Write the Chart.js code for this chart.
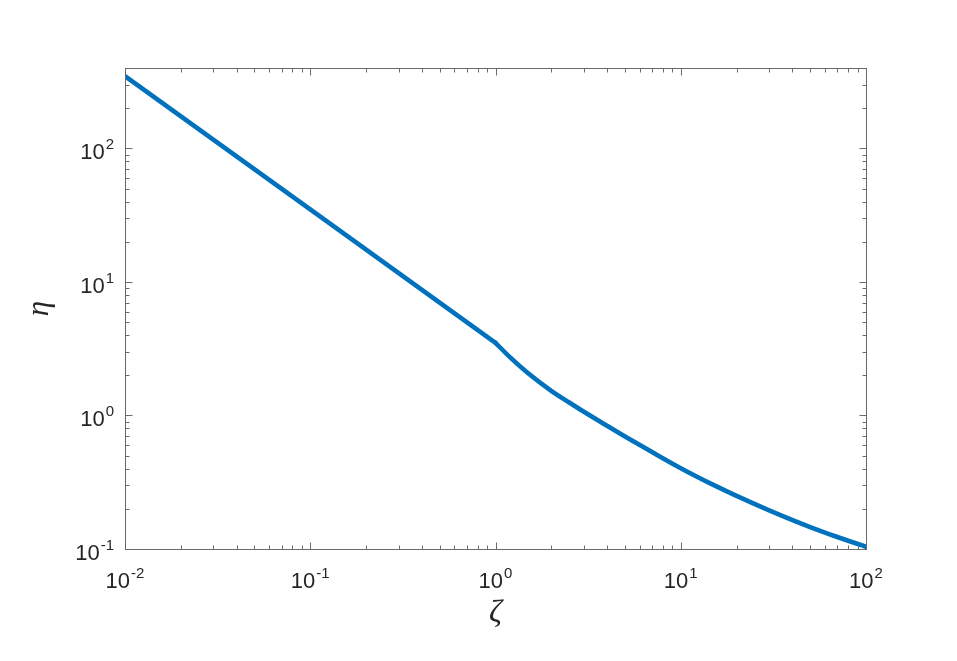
<!DOCTYPE html>
<html>
<head>
<meta charset="utf-8">
<script src="https://cdn.jsdelivr.net/npm/chart.js@4/dist/chart.umd.min.js"></script>
<style>
  html, body { margin: 0; padding: 0; background: #ffffff; }
  canvas { display: block; }
</style>
</head>
<body>
<canvas id="c" width="957" height="661"></canvas>
<script>
// ---- data ----
const zeta = [0.01, 0.1, 1, 1.2, 1.5, 2, 2.5, 3, 4, 5, 7, 10, 15, 20, 30, 50, 70, 100];
const eta  = [348, 34.9, 3.5, 2.72, 2.07, 1.53, 1.25, 1.065, 0.837, 0.697, 0.532, 0.403, 0.302, 0.250, 0.195, 0.146, 0.123, 0.104];

const xTickValues = [0.01, 0.1, 1, 10, 100];
const xTickExps   = ['-2', '-1', '0', '1', '2'];
const yTickValues = [0.1, 1, 10, 100];
const yTickExps   = ['-1', '0', '1', '2'];

const xLabel = 'ζ';
const yLabel = 'η';

// the curve has a kink at ζ = 1: straight branch below, curved branch above
const points = zeta.map((z, i) => ({ x: z, y: eta[i] }));
const lowBranch  = points.filter(p => p.x <= 1);
const highBranch = points.filter(p => p.x >= 1);

function minorValues(min, max) {
  const out = [];
  for (let e = Math.floor(Math.log10(min)); e <= Math.ceil(Math.log10(max)); e++) {
    for (let m = 1; m <= 9; m++) {
      const v = m * Math.pow(10, e);
      if (v > min * 1.0001 && v < max * 0.9999) out.push({ v, major: m === 1 });
    }
  }
  return out;
}

const BASE_FONT = '22px "Liberation Sans", Arial, Helvetica, sans-serif';
const EXP_FONT  = '15px "Liberation Sans", Arial, Helvetica, sans-serif';

function drawPow(ctx, exp, x, baseY, align) {
  ctx.font = BASE_FONT;
  const w10 = ctx.measureText('10').width;
  ctx.font = EXP_FONT;
  const wE = ctx.measureText(exp).width;
  const total = w10 + 1 + wE;
  let start;
  if (align === 'center') start = x - total / 2;
  else start = x - total; // right aligned
  ctx.textAlign = 'left';
  ctx.textBaseline = 'alphabetic';
  ctx.font = BASE_FONT;
  ctx.fillText('10', start, baseY);
  ctx.font = EXP_FONT;
  ctx.fillText(exp, start + w10 + 1, baseY - 10);
}

const boxPlugin = {
  id: 'matlabBox',
  afterDraw(chart) {
    const { ctx, chartArea: a } = chart;
    const xs = chart.scales.x, ys = chart.scales.y;
    ctx.save();
    ctx.strokeStyle = '#6a6a6a';
    ctx.lineWidth = 1;
    const L = Math.round(a.left) + 0.5, R = Math.round(a.right) + 0.5;
    const T = Math.round(a.top) + 0.5, B = Math.round(a.bottom) + 0.5;
    ctx.strokeRect(L, T, R - L, B - T);

    ctx.beginPath();
    minorValues(xs.min, xs.max).forEach(t => {
      const px = Math.round(xs.getPixelForValue(t.v)) + 0.5;
      const len = t.major ? 7 : 4;
      ctx.moveTo(px, B); ctx.lineTo(px, B - len);
      ctx.moveTo(px, T); ctx.lineTo(px, T + len);
    });
    minorValues(ys.min, ys.max).forEach(t => {
      const py = Math.round(ys.getPixelForValue(t.v)) + 0.5;
      const len = t.major ? 7 : 4;
      ctx.moveTo(L, py); ctx.lineTo(L + len, py);
      ctx.moveTo(R, py); ctx.lineTo(R - len, py);
    });
    ctx.stroke();

    ctx.fillStyle = '#262626';
    xTickValues.forEach((v, i) => {
      const px = xs.getPixelForValue(v);
      drawPow(ctx, xTickExps[i], px, a.bottom + 39, 'center');
    });
    yTickValues.forEach((v, i) => {
      const py = ys.getPixelForValue(v);
      drawPow(ctx, yTickExps[i], a.left - 11, py + 11, 'right');
    });

    // axis titles
    ctx.font = 'italic 32px "Liberation Serif", "DejaVu Serif", serif';
    ctx.textAlign = 'center';
    ctx.textBaseline = 'alphabetic';
    ctx.fillText(xLabel, (a.left + a.right) / 2, 622);

    ctx.save();
    ctx.translate(48, (a.top + a.bottom) / 2);
    ctx.rotate(-Math.PI / 2);
    ctx.font = 'italic 31px "Liberation Serif", "DejaVu Serif", serif';
    ctx.fillText(yLabel, 0, 0);
    ctx.restore();

    ctx.restore();
  }
};

const lineStyle = {
  borderColor: '#0072BD',
  borderWidth: 4.6,
  pointRadius: 0,
  fill: false,
  borderCapStyle: 'round',
  borderJoinStyle: 'round'
};

new Chart(document.getElementById('c'), {
  type: 'line',
  data: {
    datasets: [
      Object.assign({ data: lowBranch, tension: 0 }, lineStyle),
      Object.assign({ data: highBranch, cubicInterpolationMode: 'monotone' }, lineStyle)
    ]
  },
  options: {
    responsive: false,
    animation: false,
    layout: { padding: { left: 125, right: 91, top: 68, bottom: 112 } },
    plugins: { legend: { display: false }, tooltip: { enabled: false } },
    scales: {
      x: { type: 'logarithmic', min: 0.01, max: 100, display: false },
      y: { type: 'logarithmic', min: 0.1, max: 400, display: false }
    }
  },
  plugins: [boxPlugin]
});
</script>
</body>
</html>
